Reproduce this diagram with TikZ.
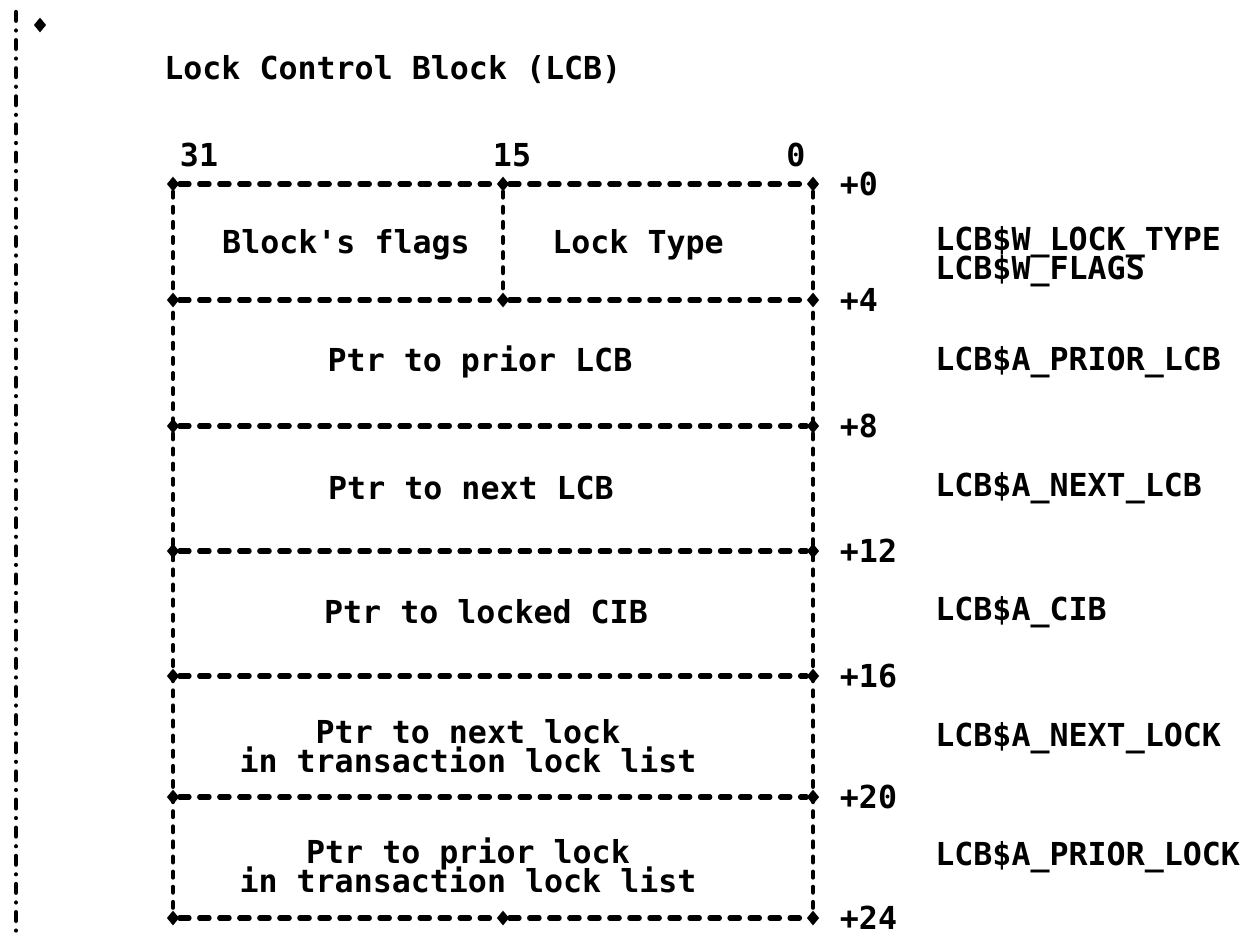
\documentclass[tikz,border=0pt]{standalone}
\usepackage{fontspec}
\setmonofont{DejaVu Sans Mono}
\usepackage{tikz}
\usetikzlibrary{shapes.geometric, positioning}
\newcommand{\lcbfont}{\ttfamily\bfseries\fontsize{18}{16.5}\selectfont\lineskiplimit=-20pt\relax}
\tikzset{
  lbl/.style={font=\lcbfont, inner sep=0pt, align=center},
  symname/.style={font=\lcbfont, inner sep=0pt, align=left, anchor=west},
  corner/.style={diamond, fill=black, inner sep=0pt,
    minimum width=0.25cm, minimum height=0.3cm},
  hrule/.style={line width=2.9pt, line cap=round, dash pattern=on 5.4pt off 6pt},
  vrule/.style={line width=2.5pt, line cap=round, dash pattern=on 3.2pt off 5.4pt},
  marginrule/.style={line width=2.4pt, line cap=round,
    dash pattern=on 5pt off 5.5pt on 0.01pt off 5.5pt}
}
\begin{document}
\begin{tikzpicture}[x=0.02cm, y=-0.02cm]
  \useasboundingbox (0,0) rectangle (1260,940);

  % Margin
  \coordinate (mtop) at (16,12);
  \coordinate (mbot) at (16,940);
  \draw[marginrule] (mtop) -- (mbot);
  \node[corner] (tmark) at (40,25) {};

  % Title and bit numbers
  \node[lbl, anchor=west] (title) at (164,70) {Lock Control Block (LCB)};
  \node[lbl] (b31) at (199,155) {31};
  \node[lbl] (b15) at (512,155) {15};
  \node[lbl] (b0) at (796,155) {0};

  % Corners of the fields
  \node[corner] (l0) at (173,184) {};
  \node[corner] (m0) at (503,184) {};
  \node[corner] (r0) at (813,184) {};
  \node[corner] (l4) at (173,300) {};
  \node[corner] (m4) at (503,300) {};
  \node[corner] (r4) at (813,300) {};
  \node[corner] (l8) at (173,426) {};
  \node[corner] (r8) at (813,426) {};
  \node[corner] (l12) at (173,551) {};
  \node[corner] (r12) at (813,551) {};
  \node[corner] (l16) at (173,676) {};
  \node[corner] (r16) at (813,676) {};
  \node[corner] (l20) at (173,797) {};
  \node[corner] (r20) at (813,797) {};
  \node[corner] (l24) at (173,918) {};
  \node[corner] (m24) at (503,918) {};
  \node[corner] (r24) at (813,918) {};

  % Borders
  \draw[hrule] (l0) -- (m0);
  \draw[hrule] (m0) -- (r0);
  \draw[hrule] (l4) -- (m4);
  \draw[hrule] (m4) -- (r4);
  \draw[hrule] (l8) -- (r8);
  \draw[hrule] (l12) -- (r12);
  \draw[hrule] (l16) -- (r16);
  \draw[hrule] (l20) -- (r20);
  \draw[hrule] (l24) -- (m24);
  \draw[hrule] (m24) -- (r24);
  \draw[vrule] (l0) -- (l24);
  \draw[vrule] (r0) -- (r24);
  \draw[vrule] (m0) -- (m4);

  % Offsets
  \node[lbl, right=0.4cm of r0] (o0) {+0};
  \node[lbl, right=0.4cm of r4] (o4) {+4};
  \node[lbl, right=0.4cm of r8] (o8) {+8};
  \node[lbl, right=0.4cm of r12] (o12) {+12};
  \node[lbl, right=0.4cm of r16] (o16) {+16};
  \node[lbl, right=0.4cm of r20] (o20) {+20};
  \node[lbl, right=0.4cm of r24] (o24) {+24};

  % Field contents
  \node[lbl] (flags) at (346,245) {Block's flags};
  \node[lbl] (ltype) at (638,245) {Lock Type};
  \node[lbl] (prior) at (480,362) {Ptr to prior LCB};
  \node[lbl] (next) at (471,488) {Ptr to next LCB};
  \node[lbl] (cib) at (486,612) {Ptr to locked CIB};
  \node[lbl] (nlock) at (468,746) {Ptr to next lock\\in transaction lock list};
  \node[lbl] (plock) at (468,865) {Ptr to prior lock\\in transaction lock list};

  % Symbol names
  \node[symname] (s0) at (935,257) {LCB\$W\_LOCK\_TYPE\\LCB\$W\_FLAGS};
  \node[symname] (s4) at (935,362) {LCB\$A\_PRIOR\_LCB};
  \node[symname] (s8) at (935,488) {LCB\$A\_NEXT\_LCB};
  \node[symname] (s12) at (935,612) {LCB\$A\_CIB};
  \node[symname] (s16) at (935,738) {LCB\$A\_NEXT\_LOCK};
  \node[symname] (s20) at (935,857) {LCB\$A\_PRIOR\_LOCK};
\end{tikzpicture}
\end{document}
